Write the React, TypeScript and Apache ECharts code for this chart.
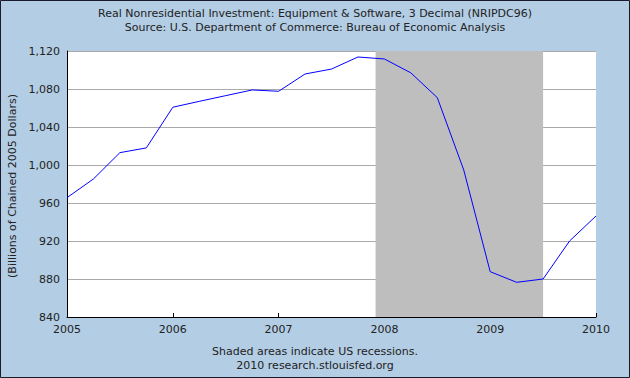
import React, { useEffect, useRef } from "react";
import * as echarts from "echarts";

const titleLines = [
  "Real Nonresidential Investment: Equipment & Software, 3 Decimal (NRIPDC96)",
  "Source: U.S. Department of Commerce: Bureau of Economic Analysis",
];
const footerLines = ["Shaded areas indicate US recessions.", "2010 research.stlouisfed.org"];
const yAxisName = "(Billions of Chained 2005 Dollars)";

const dates = [
  "2005-01-01", "2005-04-01", "2005-07-01", "2005-10-01",
  "2006-01-01", "2006-04-01", "2006-07-01", "2006-10-01",
  "2007-01-01", "2007-04-01", "2007-07-01", "2007-10-01",
  "2008-01-01", "2008-04-01", "2008-07-01", "2008-10-01",
  "2009-01-01", "2009-04-01", "2009-07-01", "2009-10-01",
  "2010-01-01",
];
const values = [
  965.6, 985.3, 1013.0, 1018.0,
  1060.8, 1067.0, 1073.0, 1079.0,
  1077.6, 1095.8, 1101.0, 1113.7,
  1111.6, 1097.0, 1070.9, 994.7,
  887.7, 876.5, 880.0, 920.0,
  946.3,
];
const recessions = [["2007-12-01", "2009-07-01"]];

const toYear = (d: string) => {
  const [y, m] = d.split("-").map(Number);
  return y + (m - 1) / 12;
};

const FONT = "DejaVu Sans";
const FS = 11;

export default function App() {
  const ref = useRef<HTMLDivElement>(null);
  useEffect(() => {
    if (!ref.current) return;
    const chart = echarts.init(ref.current, null, { renderer: "svg" });
    chart.setOption({
      animation: false,
      backgroundColor: "#b3cde4",
      textStyle: { fontFamily: FONT },
      grid: { left: 67, right: 34, top: 51, bottom: 61 },
      graphic: [
        {
          type: "rect",
          shape: { x: 0.5, y: 0.5, width: 629, height: 377 },
          style: { fill: "none", stroke: "#1a1a2a", lineWidth: 1 },
          z: 100,
        },
        {
          type: "rect",
          shape: { x: 67, y: 51, width: 529, height: 266 },
          style: { fill: "#ffffff" },
          z: -1,
        },
        ...titleLines.map((t, i) => ({
          type: "text",
          x: 315,
          y: 13 + i * 14,
          style: { text: t, fill: "#222", font: `${FS}px '${FONT}'`, textAlign: "center", textVerticalAlign: "middle" },
        })),
        ...footerLines.map((t, i) => ({
          type: "text",
          x: 315,
          y: 351 + i * 14,
          style: { text: t, fill: "#222", font: `${FS}px '${FONT}'`, textAlign: "center", textVerticalAlign: "middle" },
        })),
        {
          type: "text",
          x: 12,
          y: 186,
          rotation: Math.PI / 2,
          style: { text: yAxisName, fill: "#222", font: `${FS}px '${FONT}'`, textAlign: "center", textVerticalAlign: "middle" },
        },
      ],
      xAxis: {
        type: "value",
        min: 2005,
        max: 2010,
        interval: 1,
        axisLine: { lineStyle: { color: "#000", width: 1 } },
        axisTick: { inside: true, length: 4, lineStyle: { color: "#000" } },
        axisLabel: { color: "#222", fontSize: FS, fontFamily: FONT, margin: 7, formatter: (v: number) => String(v) },
        splitLine: { show: false },
      },
      yAxis: {
        type: "value",
        min: 840,
        max: 1120,
        interval: 40,
        axisLine: { show: true, lineStyle: { color: "#000", width: 1 } },
        axisTick: { show: false },
        axisLabel: {
          color: "#222",
          fontSize: FS,
          fontFamily: FONT,
          margin: 7,
          formatter: (v: number) => v.toLocaleString("en-US"),
        },
        splitLine: { show: true, lineStyle: { color: "#aaaaaa", width: 1 } },
      },
      series: [
        {
          type: "line",
          data: dates.map((d, i) => [toYear(d), values[i]]),
          showSymbol: false,
          lineStyle: { color: "#0000ff", width: 1 },
          markArea: {
            silent: true,
            itemStyle: { color: "#bebebe" },
            data: recessions.map(([a, b]) => [{ xAxis: toYear(a) }, { xAxis: toYear(b) }]),
          },
        },
      ],
    });
    return () => chart.dispose();
  }, []);
  return <div ref={ref} style={{ position: "absolute", left: 0, top: 0, width: 630, height: 378 }} />;
}
